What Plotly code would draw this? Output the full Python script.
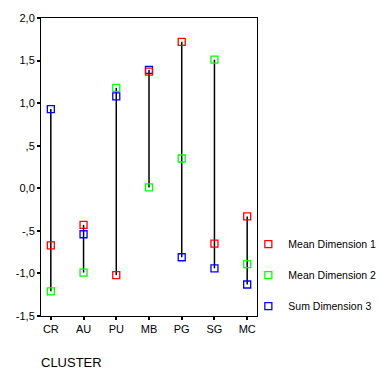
import plotly.graph_objects as go

clusters = ["CR", "AU", "PU", "MB", "PG", "SG", "MC"]
mean_dim1 = [-0.67, -0.43, -1.02, 1.37, 1.72, -0.65, -0.33]
mean_dim2 = [-1.21, -0.99, 1.18, 0.01, 0.35, 1.51, -0.89]
sum_dim3 = [0.93, -0.54, 1.08, 1.39, -0.81, -0.94, -1.13]

y_tickvals = [2.0, 1.5, 1.0, 0.5, 0.0, -0.5, -1.0, -1.5]
y_ticktext = ["2,0", "1,5", "1,0", ",5", "0,0", "-,5", "-1,0", "-1,5"]

series = [
    ("Sum Dimension 3", sum_dim3, "#0000ff", 3),
    ("Mean Dimension 2", mean_dim2, "#00ff00", 2),
    ("Mean Dimension 1", mean_dim1, "#ff0000", 1),
]

font_family = "Arial, Liberation Sans, sans-serif"

# high-low lines from min to max for each cluster
lx, ly = [], []
for i, c in enumerate(clusters):
    vals = [mean_dim1[i], mean_dim2[i], sum_dim3[i]]
    lx += [c, c, None]
    ly += [min(vals), max(vals), None]

fig = go.Figure()
fig.add_trace(go.Scatter(x=lx, y=ly, mode="lines",
                         line=dict(color="black", width=1.5),
                         showlegend=False, hoverinfo="skip"))

for name, vals, color, rank in series:
    fig.add_trace(go.Scatter(
        x=clusters, y=vals, mode="markers", name=name,
        legendgroup=name, legendrank=rank,
        marker=dict(symbol="square-open", size=7, color=color,
                    line=dict(color=color, width=1.3)),
    ))

fig.update_layout(
    width=381, height=381,
    margin=dict(l=41, r=124, t=18, b=65, autoexpand=False),
    paper_bgcolor="white", plot_bgcolor="white",
    font=dict(family=font_family, size=11, color="black"),
    legend=dict(x=0.96, y=0.29, xanchor="left", yanchor="top",
                tracegroupgap=12, traceorder="grouped", itemwidth=30,
                font=dict(size=10.5), bgcolor="rgba(0,0,0,0)"),
    xaxis=dict(type="category", categoryorder="array", categoryarray=clusters,
               range=[-0.3, 6.3], automargin=False,
               showline=True, linecolor="black", linewidth=1, mirror=True,
               showgrid=False, zeroline=False,
               ticks="outside", ticklen=3, tickwidth=2, tickcolor="black",
               tickfont=dict(size=11)),
    yaxis=dict(range=[-1.5, 2.0], tickvals=y_tickvals, ticktext=y_ticktext,
               automargin=False,
               showline=True, linecolor="black", linewidth=1, mirror=True,
               showgrid=False, zeroline=False,
               ticks="outside", ticklen=3, tickwidth=2, tickcolor="black",
               tickfont=dict(size=11)),
    annotations=[dict(text="CLUSTER", xref="paper", yref="paper",
                      x=-0.01, y=-0.155, xanchor="left", yanchor="middle",
                      showarrow=False, font=dict(size=13))],
)

fig.write_html("out.html", config={"displayModeBar": False},
               post_script="document.body.style.margin='0';")
